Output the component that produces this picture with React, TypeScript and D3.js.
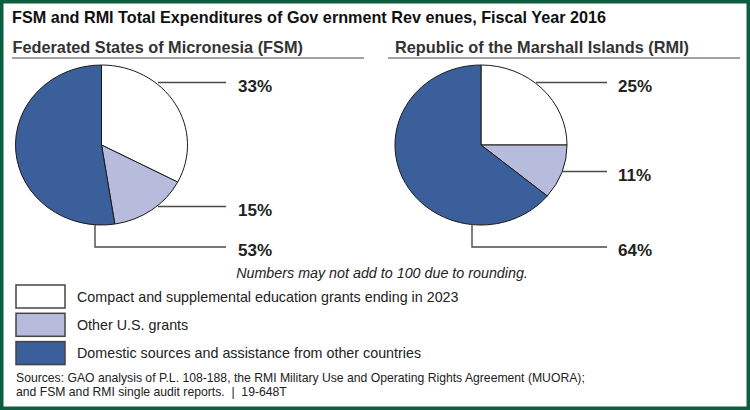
import React from "react";
import * as d3 from "d3";

const categories = [
  "Compact and supplemental education grants ending in 2023",
  "Other U.S. grants",
  "Domestic sources and assistance from other countries",
];
const colors = ["#ffffff", "#b7bbdc", "#3a5f9b"];
const fsmValues = [33, 15, 53];
const rmiValues = [25, 11, 64];
const fsmLabels = ["33%", "15%", "53%"];
const rmiLabels = ["25%", "11%", "64%"];

const FONT = "'Liberation Sans', Arial, Helvetica, sans-serif";

type PieProps = {
  cx: number;
  cy: number;
  values: number[];
  labels: string[];
  lineEndX: number;
  labelX: number;
  leaders: { y: number; fromX: number; vertical?: { x: number; y0: number } }[];
  labelYs: number[];
};

const RX = 86;
const RY = 80;

function Pie({ cx, cy, values, labels, lineEndX, labelX, leaders, labelYs }: PieProps) {
  const pie = d3.pie<number>().sort(null).value((d) => d);
  const arcs = pie(values);
  const arc = d3.arc<d3.PieArcDatum<number>>().innerRadius(0).outerRadius(RY);
  const sx = RX / RY;
  return (
    <g>
      <g transform={`translate(${cx},${cy}) scale(${sx},1)`}>
        {arcs.map((a, i) => (
          <path
            key={i}
            d={arc(a) || ""}
            fill={colors[i]}
            stroke="#1a1a1a"
            strokeWidth={1}
            vectorEffect="non-scaling-stroke"
          />
        ))}
      </g>
      {leaders.map((l, i) => (
        <g key={i}>
          {l.vertical ? (
            <polyline
              points={`${l.vertical.x},${l.vertical.y0} ${l.vertical.x},${l.y} ${lineEndX},${l.y}`}
              fill="none"
              stroke="#4a4a4a"
              strokeWidth={1.4}
            />
          ) : (
            <line x1={l.fromX} y1={l.y} x2={lineEndX} y2={l.y} stroke="#4a4a4a" strokeWidth={1.4} />
          )}
          <text
            x={labelX}
            y={labelYs[i]}
            fontFamily={FONT}
            fontWeight="bold"
            fontSize={17}
            fill="#222"
          >
            {labels[i]}
          </text>
        </g>
      ))}
    </g>
  );
}

export default function App() {
  const W = 750;
  const H = 410;
  return (
    <svg
      width={W}
      height={H}
      style={{ position: "absolute", left: 0, top: 0 }}
      xmlns="http://www.w3.org/2000/svg"
    >
      <rect x={0} y={0} width={W} height={H} fill="#ffffff" />
      <rect x={1.75} y={1.75} width={W - 3.5} height={H - 3.5} fill="none" stroke="#0c5e40" strokeWidth={3.5} />
      <text x={12} y={22.5} fontFamily={FONT} fontWeight="bold" fontSize={16.2} fill="#111">
        FSM and RMI Total Expenditures of Gov ernment Rev enues, Fiscal Year 2016
      </text>

      <text x={12.5} y={53} fontFamily={FONT} fontWeight="bold" fontSize={16.3} fill="#333">
        Federated States of Micronesia (FSM)
      </text>
      <line x1={12} y1={58} x2={364} y2={58} stroke="#444" strokeWidth={1.2} />
      <text x={395} y={53} fontFamily={FONT} fontWeight="bold" fontSize={16.3} fill="#333">
        Republic of the Marshall Islands (RMI)
      </text>
      <line x1={388} y1={58} x2={740} y2={58} stroke="#444" strokeWidth={1.2} />

      <Pie
        cx={101.5}
        cy={145}
        values={fsmValues}
        labels={fsmLabels}
        lineEndX={226}
        labelX={238}
        leaders={[
          { y: 82.5, fromX: 158 },
          { y: 206.5, fromX: 158 },
          { y: 247, fromX: 95, vertical: { x: 95, y0: 225 } },
        ]}
        labelYs={[91.5, 215.5, 255.5]}
      />
      <Pie
        cx={481}
        cy={145}
        values={rmiValues}
        labels={rmiLabels}
        lineEndX={607}
        labelX={618}
        leaders={[
          { y: 82.5, fromX: 536 },
          { y: 171.5, fromX: 562 },
          { y: 247, fromX: 472, vertical: { x: 472, y0: 224 } },
        ]}
        labelYs={[91.5, 180.5, 255.5]}
      />

      <text x={382} y={277.5} textAnchor="middle" fontFamily={FONT} fontStyle="italic" fontSize={14.3} fill="#222">
        Numbers may not add to 100 due to rounding.
      </text>

      {categories.map((c, i) => (
        <g key={i}>
          <rect
            x={16}
            y={285 + i * 28.3}
            width={49}
            height={23}
            fill={colors[i]}
            stroke="#444"
            strokeWidth={1.5}
          />
          <text x={77} y={301.5 + i * 28.3} fontFamily={FONT} fontSize={14.3} fill="#222">
            {c}
          </text>
        </g>
      ))}

      <text x={16} y={382} fontFamily={FONT} fontSize={12.2} fill="#222">
        Sources: GAO analysis of P.L. 108-188, the RMI Military Use and Operating Rights Agreement (MUORA);
      </text>
      <text x={16} y={395.5} fontFamily={FONT} fontSize={12.2} fill="#222" style={{ whiteSpace: "pre" }}>
        {"and FSM and RMI single audit reports.  |  19-648T"}
      </text>
    </svg>
  );
}
